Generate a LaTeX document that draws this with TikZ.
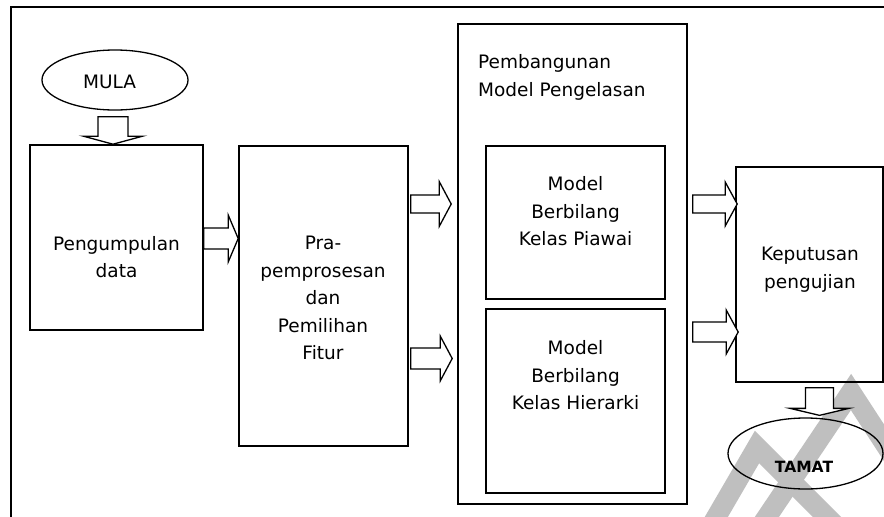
\documentclass[tikz,border=0pt]{standalone}
\usepackage{fontspec}
\setmainfont{DejaVu Sans}
\usetikzlibrary{shapes.geometric,calc}

% right-pointing hollow block arrow between two nodes
% #1 source, #2 target, #3 axis coordinate, #4 shaft half-width,
% #5 head half-width, #6 head length, #7 gap at source, #8 tip offset
\newcommand{\rblock}[8]{%
  \draw[blk] ($(#1.east |- #3)+(#7,-#4)$)
    -- ($(#2.west |- #3)+(#8-#6,-#4)$)
    -- ($(#2.west |- #3)+(#8-#6,-#5)$)
    -- ($(#2.west |- #3)+(#8,0)$)
    -- ($(#2.west |- #3)+(#8-#6,#5)$)
    -- ($(#2.west |- #3)+(#8-#6,#4)$)
    -- ($(#1.east |- #3)+(#7,#4)$) -- cycle;}

% downward hollow block arrow between two nodes
\newcommand{\dblock}[8]{%
  \draw[blk] ($(#3 |- #1.south)+(-#4,#7)$)
    -- ($(#3 |- #2.north)+(-#4,#8-#6)$)
    -- ($(#3 |- #2.north)+(-#5,#8-#6)$)
    -- ($(#3 |- #2.north)+(0,#8)$)
    -- ($(#3 |- #2.north)+(#5,#8-#6)$)
    -- ($(#3 |- #2.north)+(#4,#8-#6)$)
    -- ($(#3 |- #1.south)+(#4,#7)$) -- cycle;}

\begin{document}
\begin{tikzpicture}[x=1pt,y=-1pt,
  box/.style={draw, line width=1.6pt, rectangle, inner sep=0pt},
  oval/.style={draw, line width=1.3pt, ellipse, inner sep=0pt},
  lbl/.style={align=center, inner sep=0pt, font=\fontsize{18.5}{27.5}\selectfont},
  blk/.style={draw, line width=1.3pt, fill=white, line join=miter},
  wmstroke/.style={draw=black!25, line width=20pt}]

\useasboundingbox (0,0) rectangle (884,517);
\fill[white] (0,0) rectangle (884,517);

% faint background lettering in the lower right
\begin{scope}
  \clip (0,0) rectangle (884,517);
  \draw[wmstroke] (700,545) -- (757,447) -- (850,540);
  \draw[wmstroke] (748,545) -- (851,392) -- (905,475);
\end{scope}

% frame
\draw[line width=2pt] (11,520) -- (11,7) -- (887,7);

% start and end ovals
\node[oval, minimum width=146pt, minimum height=60pt] (mula) at (115,80) {};
\node[lbl] (mulaT) at (109.5,82) {MULA};
\node[oval, minimum width=155pt, minimum height=71pt] (tamat) at (805.5,453.5) {};
\node[align=center, inner sep=0pt, font=\fontsize{15.5}{18}\selectfont\bfseries] (tamatT) at (804,467) {TAMAT};

% process boxes
\node[box, minimum width=173pt, minimum height=185pt] (collect) at (116.5,237.5) {};
\node[lbl] (collectT) at (116.5,257) {Pengumpulan\\data};

\node[box, minimum width=169pt, minimum height=300pt] (prep) at (323.5,296) {};
\node[lbl] (prepT) at (323,298) {Pra-\\pemprosesan\\dan\\Pemilihan\\Fitur};

\node[box, minimum width=229pt, minimum height=480pt] (build) at (572.5,264) {};
\node[lbl, anchor=west, align=left] (buildT) at (478,77.5) {Pembangunan\\Model Pengelasan};

\node[box, minimum width=179pt, minimum height=153pt] (std) at (575.5,222.5) {};
\node[lbl] (stdT) at (575.5,211.5) {Model\\Berbilang\\Kelas Piawai};

\node[box, minimum width=179pt, minimum height=184pt] (hier) at (575.5,401) {};
\node[lbl] (hierT) at (575.5,375.5) {Model\\Berbilang\\Kelas Hierarki};

\node[box, minimum width=147pt, minimum height=215pt] (decide) at (809.5,274.5) {};
\node[lbl] (decideT) at (810,269.5) {Keputusan\\pengujian};

% arrow axes
\coordinate (ax1) at (113,0);
\coordinate (ax2) at (819.5,0);
\coordinate (ay1) at (0,238.5);
\coordinate (ay2) at (0,204);
\coordinate (ay3) at (0,358.5);
\coordinate (ay4) at (0,204);
\coordinate (ay5) at (0,332);

% block arrows
\dblock{mula}{collect}{ax1}{15}{29.5}{8}{6}{0}
\rblock{collect}{prep}{ay1}{10.5}{23.5}{10}{0}{0}
\rblock{prep}{build}{ay2}{9}{22.5}{12}{2}{-6}
\rblock{prep}{build}{ay3}{10.5}{22.5}{12}{2}{-5}
\rblock{build}{decide}{ay4}{9}{22}{12}{5}{2}
\rblock{build}{decide}{ay5}{10}{22}{12}{5}{3}
\dblock{decide}{tamat}{ax2}{14}{29.5}{7}{5}{-2}

\end{tikzpicture}
\end{document}
